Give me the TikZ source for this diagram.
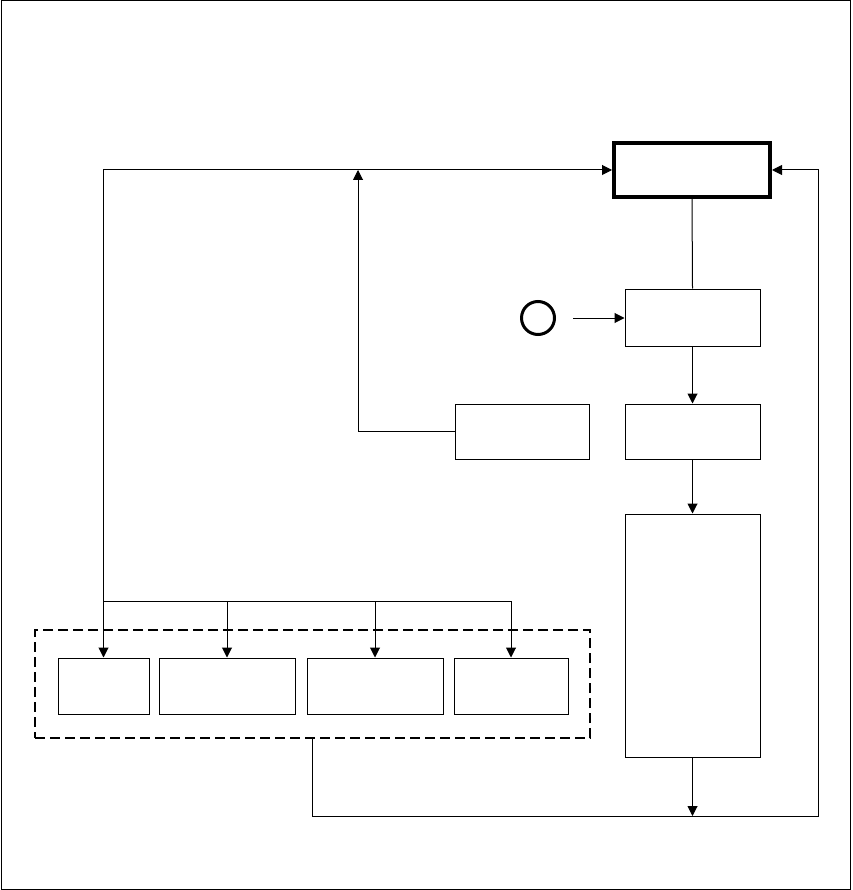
\documentclass[tikz,border=0pt]{standalone}
\usepackage{tikz}
\usetikzlibrary{arrows.meta,positioning}

\begin{document}
\begin{tikzpicture}[x=1pt,y=-1pt,line width=1pt,
   b/.style={draw,inner sep=0pt,minimum width=135pt,minimum height=55pt},
   m/.style={draw,line width=4pt,inner sep=0pt,minimum width=156pt,minimum height=54pt},
   s/.style={draw,inner sep=0pt,minimum height=56pt},
   g/.style={draw,dashed,dash pattern=on 10pt off 5pt,line width=1.6pt,inner sep=0pt,minimum width=555pt,minimum height=108pt},
   c/.style={draw,circle,line width=3pt,inner sep=0pt,minimum size=33pt},
   a/.style={-{Triangle[length=10pt,width=10pt]}}]
  \useasboundingbox (0,0) rectangle (852,890);
  \draw (1,1) rectangle (850,889);
  \node[g] (grp) at (312.5,684) {};
  \node[m] (ctrl) at (692,170) {};
  \node[b,minimum height=57pt] (st1) at (692.5,317.5) {};
  \node[b] (st2) at (692.5,431.5) {};
  \node[b,minimum height=243pt] (res) at (692.5,635.5) {};
  \node[b,minimum width=134pt] (side) at (522,431.5) {};
  \node[c] (src) at (538,318) {};
  \node[s,minimum width=91pt] (b1) at (103.5,686) {};
  \node[s,minimum width=136pt] (b2) at (227,686) {};
  \node[s,minimum width=136pt] (b3) at (375,686) {};
  \node[s,minimum width=114pt] (b4) at (511,686) {};
  \coordinate (fan) at (103.5,601);
  \coordinate (up) at (358,170);
  \coordinate (ret) at (818,816);
  % forward chain
  \draw (ctrl.south) -- (st1.north);
  \draw[a,shorten <=17pt] (src.east) -- (src.east -| st1.west);
  \draw[a] (st1) -- (st2); \draw[a] (st2) -- (res);
  \draw[a] (res.south) -- (res.south |- ret);
  % feedback
  \draw[a] (grp.south) |- (ret) |- (ctrl.east);
  \draw[a] (side.west) -| (up);
  \draw[a] (fan) |- (ctrl.west);
  \draw (fan) -- (fan -| b4.north);
  \foreach \k in {b1,b2,b3,b4} \draw[a] (fan -| \k.north) -- (\k.north);
\end{tikzpicture}
\end{document}
